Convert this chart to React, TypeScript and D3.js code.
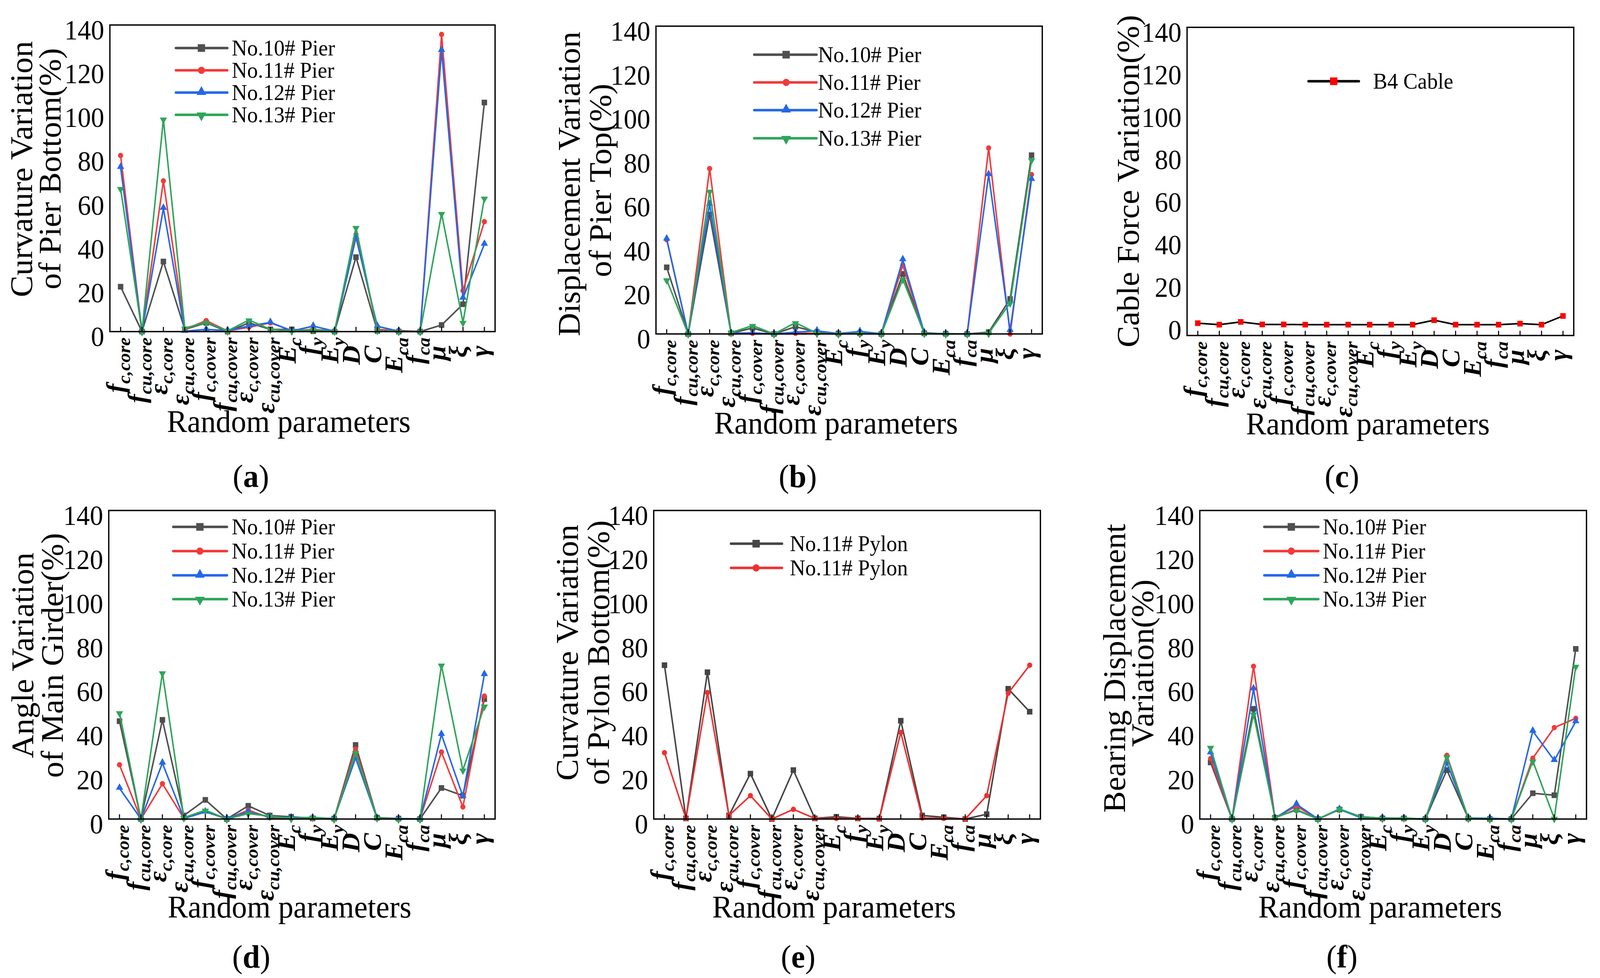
import * as d3 from "d3";

// parameter labels on the x axis (symbol + subscript)
const PARAM_SYMBOLS = ["f", "f", "ε", "ε", "f", "f", "ε", "ε", "E", "f", "E", "D", "C", "E", "f", "μ", "ξ", "γ"];
const PARAM_SUBS = ["c,core", "cu,core", "c,core", "cu,core", "c,cover", "cu,cover", "c,cover", "cu,cover", "c", "y", "y", "", "", "ca", "ca", "", "", ""];
const Y_TICKS = [0, 20, 40, 60, 80, 100, 120, 140];

// (a) curvature variation of pier bottom
const A_NO10 = [20.5, 0, 32, 1, 4, 0, 4, 1, 1, 0.2, 0, 34, 0.3, 0, 0, 3, 12.5, 104.6];
const A_NO11 = [80.4, 0, 68.8, 1, 5, 0.3, 2, 4, 0.5, 1, 0.3, 44.3, 1, 0.5, 0, 135.7, 18.7, 50.2];
const A_NO12 = [75, 0, 56.3, 0.2, 1, 0.5, 2.5, 4.2, 0.3, 2.5, 0.2, 43, 2.4, 0.2, 0, 128.4, 15.3, 39.9];
const A_NO13 = [65.3, 0, 97, 1.6, 4.2, 0.3, 5.3, 1, 0.3, 0.8, 0.2, 47.5, 0.5, 0.1, 0, 53.9, 4.2, 60.9];

// (b) displacement variation of pier top
const B_NO10 = [30.3, 0, 54.3, 0.3, 2.7, 0, 3.3, 0.8, 0.2, 0.3, 0, 27.3, 0.3, 0.1, 0, 0.8, 15.9, 81.3];
const B_NO11 = [42.9, 0, 75.2, 0.1, 0.3, 0, 0.3, 0.3, 0, 0.2, 0, 31.3, 0.2, 0, 0, 84.6, 0, 72.5];
const B_NO12 = [43.2, 0, 59, 0.3, 0.5, 0, 0.8, 1.4, 0.2, 1.1, 0.1, 33.8, 0.6, 0, 0, 72.5, 1.6, 70.3];
const B_NO13 = [24.6, 0, 64.9, 0.6, 3.8, 0, 5.1, 0.3, 0, 0.2, 0, 24.9, 0.3, 0, 0, 0.3, 14.1, 79.2];

// (c) cable force variation
const C_B4 = [0.8, 0.1, 1.4, 0.2, 0.2, 0.1, 0.1, 0.1, 0.1, 0.1, 0.1, 2.2, 0.1, 0.1, 0.1, 0.6, 0.1, 4.2];

// (d) angle variation of main girder
const D_NO10 = [44.4, 0, 45, 1.6, 8.7, 0, 6, 1.6, 1, 0.3, 0.2, 33.6, 0.6, 0.2, 0, 14.1, 10.6, 54.4];
const D_NO11 = [24.6, 0, 16, 0.3, 3.5, 0, 4, 0.6, 0.2, 0.3, 0, 31.7, 0.2, 0, 0, 30.4, 5.5, 55.8];
const D_NO12 = [14, 0, 25.4, 0.3, 3.2, 0.3, 3.2, 1, 0.6, 0.6, 0.2, 27.7, 0.3, 0.2, 0, 38.4, 10.3, 65.6];
const D_NO13 = [48.2, 0, 66.3, 0.6, 4, 0, 2.5, 1.3, 0.3, 0.8, 0, 30.1, 0.5, 0, 0, 69.8, 22.2, 51.2];

// (e) curvature variation of pylon bottom
const E_PYLON_A = [69.8, 0.3, 66.6, 1.6, 20.6, 0, 22.2, 0.3, 1, 0.3, 0.2, 44.6, 1.6, 0.8, 0, 2.2, 59.1, 48.7];
const E_PYLON_B = [30.1, 0.3, 57.4, 1.6, 10.6, 0, 4.4, 0.3, 0.3, 0.3, 0, 39.3, 0.5, 0.3, 0, 10.6, 57.1, 69.8];

// (f) bearing displacement variation
const F_NO10 = [25.7, 0, 50, 0.6, 4.3, 0, 4.3, 1, 0.3, 0.3, 0, 22.2, 0.3, 0, 0, 11.7, 10.8, 77.2];
const F_NO11 = [27.4, 0, 69.3, 0.6, 5.9, 0, 4.4, 1, 0.3, 0.3, 0, 28.9, 0.3, 0.3, 0, 27.6, 41.5, 45.7];
const F_NO12 = [30.1, 0, 59.1, 0.3, 6.7, 0, 4.4, 0.6, 0.5, 0.3, 0, 25.4, 0.5, 0.3, 0, 39.9, 26.6, 44.2];
const F_NO13 = [32.5, 0, 47.6, 0.8, 4, 0, 4.6, 1, 0.3, 0.5, 0, 28.2, 0.3, 0, 0, 26.3, 0.3, 69.3];

const FONT = "'Liberation Serif', 'Times New Roman', serif";
const W = 4266;
const H = 2504;

type Shape = "square" | "circle" | "up" | "down";
interface Series {
  name: string;
  values: number[];
  line: string;
  marker: string;
  shape: Shape;
}

const GREY = "#4f4f4f";
const RED = "#f23a3a";
const BLUE = "#2468e8";
const GREEN = "#2ea55a";

const pierSeries = (v: number[][]): Series[] => [
  { name: "No.10# Pier", values: v[0], line: GREY, marker: GREY, shape: "square" },
  { name: "No.11# Pier", values: v[1], line: RED, marker: RED, shape: "circle" },
  { name: "No.12# Pier", values: v[2], line: BLUE, marker: BLUE, shape: "up" },
  { name: "No.13# Pier", values: v[3], line: GREEN, marker: GREEN, shape: "down" },
];

interface PanelCfg {
  id: string;
  left: number;
  right: number;
  top: number;
  bottom: number;
  yDomain: [number, number];
  titles: { text: string; x: number; y: number }[];
  xTitle: [number, number];
  tag: [number, number];
  legend: { x1: number; x2: number; mx: number; tx: number; rows: number[] };
  series: Series[];
}

const PANELS: PanelCfg[] = [
  {
    id: "a", left: 293, right: 1320, top: 64, bottom: 849, yDomain: [0, 140],
    titles: [
      { text: "Curvature Variation", x: 85, y: 433 },
      { text: "of Pier Bottom(%)", x: 161, y: 432 },
    ],
    xTitle: [770, 1106], tag: [669, 1247],
    legend: { x1: 469, x2: 606, mx: 537, tx: 618, rows: [123, 180, 237, 294] },
    series: pierSeries([A_NO10, A_NO11, A_NO12, A_NO13]),
  },
  {
    id: "b", left: 1749, right: 2779, top: 67, bottom: 855, yDomain: [0, 140],
    titles: [
      { text: "Displacement Variation", x: 1546, y: 471 },
      { text: "of Pier Top(%)", x: 1629, y: 462 },
    ],
    xTitle: [2229, 1110], tag: [2127, 1247],
    legend: { x1: 2011, x2: 2177, mx: 2096, tx: 2181, rows: [140, 211, 282, 354] },
    series: pierSeries([B_NO10, B_NO11, B_NO12, B_NO13]),
  },
  {
    id: "c", left: 3165, right: 4196, top: 70, bottom: 859, yDomain: [-5, 140],
    titles: [{ text: "Cable Force Variation(%)", x: 3036, y: 464 }],
    xTitle: [3647, 1112], tag: [3578, 1247],
    legend: { x1: 3489, x2: 3623, mx: 3556, tx: 3661, rows: [208] },
    series: [{ name: "B4 Cable", values: C_B4, line: "#000000", marker: "#ff0000", shape: "square" }],
  },
  {
    id: "d", left: 290, right: 1320, top: 1307, bottom: 2097, yDomain: [0, 140],
    titles: [
      { text: "Angle Variation", x: 89, y: 1678 },
      { text: "of Main Girder(%)", x: 168, y: 1678 },
    ],
    xTitle: [772, 2349], tag: [670, 2477],
    legend: { x1: 462, x2: 605, mx: 533, tx: 618, rows: [1349, 1411, 1473, 1534] },
    series: pierSeries([D_NO10, D_NO11, D_NO12, D_NO13]),
  },
  {
    id: "e", left: 1743, right: 2774, top: 1307, bottom: 2097, yDomain: [0, 140],
    titles: [
      { text: "Curvature Variation", x: 1540, y: 1671 },
      { text: "of Pylon Bottom(%)", x: 1624, y: 1671 },
    ],
    xTitle: [2224, 2349], tag: [2128, 2477],
    legend: { x1: 1949, x2: 2085, mx: 2016, tx: 2106, rows: [1392, 1454] },
    series: [
      { name: "No.11# Pylon", values: E_PYLON_A, line: "#454545", marker: "#454545", shape: "square" },
      { name: "No.11# Pylon", values: E_PYLON_B, line: "#f03030", marker: "#f03030", shape: "circle" },
    ],
  },
  {
    id: "f", left: 3199, right: 4230, top: 1307, bottom: 2097, yDomain: [0, 140],
    titles: [
      { text: "Bearing Displacement", x: 3000, y: 1711 },
      { text: "Variation(%)", x: 3074, y: 1698 },
    ],
    xTitle: [3680, 2349], tag: [3578, 2477],
    legend: { x1: 3371, x2: 3515, mx: 3443, tx: 3527, rows: [1349, 1411, 1473, 1534] },
    series: pierSeries([F_NO10, F_NO11, F_NO12, F_NO13]),
  },
];

function markerPath(shape: Shape, scale = 1) {
  const type =
    shape === "square" ? d3.symbolSquare : shape === "circle" ? d3.symbolCircle : d3.symbolTriangle;
  const size = shape === "square" ? 210 : shape === "circle" ? 150 : 160;
  return d3.symbol().type(type).size(size * scale * scale)() ?? "";
}

function Marker({ s, x, y, scale = 1 }: { s: Series; x: number; y: number; scale?: number }) {
  const rot = s.shape === "down" ? 180 : 0;
  const dy = s.shape === "up" ? -1.5 : s.shape === "down" ? 1.5 : 0;
  return (
    <path
      d={markerPath(s.shape, scale)}
      transform={`translate(${x},${y + dy}) rotate(${rot})`}
      fill={s.marker}
    />
  );
}

function Panel({ cfg }: { cfg: PanelCfg }) {
  const x = d3
    .scalePoint<number>()
    .domain(d3.range(PARAM_SYMBOLS.length))
    .range([cfg.left, cfg.right])
    .padding(0.5);
  const y = d3.scaleLinear().domain(cfg.yDomain).range([cfg.bottom, cfg.top]);
  const line = d3
    .line<number>()
    .x((_, i) => x(i)!)
    .y((d) => y(d));

  return (
    <g>
      {/* data lines and markers */}
      {cfg.series.map((s, k) => (
        <g key={k}>
          <path d={line(s.values) ?? ""} fill="none" stroke={s.line} strokeWidth={4} strokeLinejoin="round" />
          {s.values.map((v, i) => (
            <Marker key={i} s={s} x={x(i)!} y={y(v)} />
          ))}
        </g>
      ))}

      {/* frame */}
      <rect
        x={cfg.left}
        y={cfg.top}
        width={cfg.right - cfg.left}
        height={cfg.bottom - cfg.top}
        fill="none"
        stroke="#000"
        strokeWidth={3.5}
      />

      {/* x ticks (inward) */}
      {PARAM_SYMBOLS.map((_, i) => (
        <line key={i} x1={x(i)} x2={x(i)} y1={cfg.bottom} y2={cfg.bottom - 12} stroke="#000" strokeWidth={2.8} />
      ))}

      {/* y tick labels */}
      {Y_TICKS.map((t) => (
        <text
          key={t}
          x={cfg.left - 15}
          y={y(t) + 37}
          textAnchor="end"
          fontFamily={FONT}
          fontSize={71}
          fill="#000"
        >
          {t}
        </text>
      ))}

      {/* x category labels */}
      {PARAM_SYMBOLS.map((sym, i) => {
        const sub = PARAM_SUBS[i];
        const gap = sub ? 15 : 36;
        return (
          <text
            key={i}
            transform={`translate(${x(i)! + 10},${cfg.bottom + gap}) rotate(-90)`}
            textAnchor="end"
            fontFamily={FONT}
            fontStyle="italic"
            fontWeight="bold"
            fontSize={68}
            fill="#000"
          >
            <tspan>{sym}</tspan>
            {sub && (
              <tspan fontSize={48} dy={15}>
                {sub}
              </tspan>
            )}
          </text>
        );
      })}

      {/* y axis title */}
      {cfg.titles.map((t, k) => (
        <text
          key={k}
          transform={`translate(${t.x},${t.y}) rotate(-90)`}
          textAnchor="middle"
          fontFamily={FONT}
          fontSize={83}
          fill="#000"
        >
          {t.text}
        </text>
      ))}

      {/* x axis title */}
      <text x={cfg.xTitle[0]} y={cfg.xTitle[1]} textAnchor="middle" fontFamily={FONT} fontSize={81} fill="#000">
        Random parameters
      </text>

      {/* panel tag */}
      <text x={cfg.tag[0]} y={cfg.tag[1]} textAnchor="middle" fontFamily={FONT} fontSize={83} fill="#000">
        (<tspan fontWeight="bold">{cfg.id}</tspan>)
      </text>

      {/* legend */}
      {cfg.series.map((s, k) => {
        const ry = cfg.legend.rows[k];
        return (
          <g key={k}>
            <line x1={cfg.legend.x1} x2={cfg.legend.x2} y1={ry} y2={ry} stroke={s.line} strokeWidth={6.5} strokeLinecap="round" />
            <Marker s={s} x={cfg.legend.mx} y={ry} scale={1.35} />
            <text x={cfg.legend.tx} y={ry + 19} fontFamily={FONT} fontSize={57} fill="#000">
              {s.name}
            </text>
          </g>
        );
      })}
    </g>
  );
}

export default function App() {
  // fill the viewport exactly; the drawing itself is laid out in a 4266x2504 box
  return (
    <svg
      viewBox={`0 0 ${W} ${H}`}
      preserveAspectRatio="none"
      style={{ position: "fixed", left: 0, top: 0, width: "100vw", height: "100vh", background: "#fff", display: "block" }}
    >
      <rect width={W} height={H} fill="#fff" />
      {PANELS.map((p) => (
        <Panel key={p.id} cfg={p} />
      ))}
    </svg>
  );
}
